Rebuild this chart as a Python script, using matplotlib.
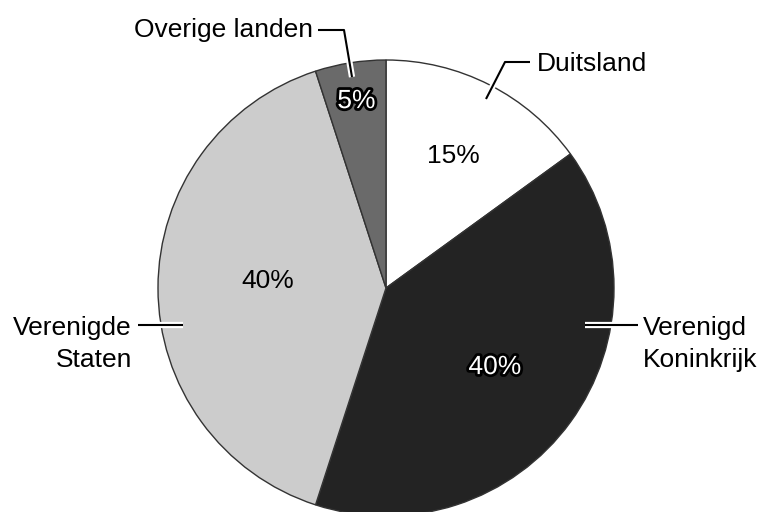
import numpy as np
import matplotlib
matplotlib.use("Agg")
import matplotlib.pyplot as plt
import matplotlib.patheffects as pe

plt.rcParams['font.family'] = ['Liberation Sans', 'DejaVu Sans']

categories = ["Duitsland", "Verenigd Koninkrijk", "Verenigde Staten", "Overige landen"]
values = [15, 40, 40, 5]
pct_labels = ["15%", "40%", "40%", "5%"]

colors = ["#ffffff", "#232323", "#cccccc", "#6a6a6a"]
pct_dist = [0.65, 0.59, 0.52, 0.83]
pct_outline = [False, True, False, True]

W, H = 762, 512
fig = plt.figure(figsize=(W / 100, H / 100), dpi=100)
ax = fig.add_axes([0, 0, 1, 1])

cx, cy, R = 386, H - 288, 228
wedges, _ = ax.pie(values, colors=colors, startangle=90, counterclock=False,
                   center=(cx, cy), radius=R, frame=True,
                   wedgeprops=dict(edgecolor="#333333", linewidth=1.0))
ax.set_xlim(0, W)
ax.set_ylim(0, H)
ax.set_aspect('equal')
ax.axis('off')

fs = 19
for w, lab, d, outl in zip(wedges, pct_labels, pct_dist, pct_outline):
    mid = np.deg2rad((w.theta1 + w.theta2) / 2)
    x = cx + d * R * np.cos(mid)
    y = cy + d * R * np.sin(mid)
    if lab == "40%" and not outl:
        y += 7
    if outl:
        ax.text(x, y, lab, ha='center', va='center', fontsize=fs, color='white',
                path_effects=[pe.Stroke(linewidth=4, foreground='black'), pe.Normal()])
    else:
        ax.text(x, y, lab, ha='center', va='center', fontsize=fs, color='black')

def py(v):
    return H - v

halo = [pe.Stroke(linewidth=4.5, foreground='white'), pe.Normal()]

leaders = [
    [(486, 99), (505, 62), (530, 62)],
    [(585, 325), (638, 325)],
    [(183, 325), (138, 325)],
    [(352, 77), (344, 30), (318, 30)],
]
for pts in leaders:
    xs = [p[0] for p in pts]
    ys = [py(p[1]) for p in pts]
    ax.plot(xs, ys, color='black', lw=1.5, solid_capstyle='butt', path_effects=halo)

ax.text(537, py(71), "Duitsland", ha='left', va='baseline', fontsize=fs)
ax.text(643, py(335), "Verenigd", ha='left', va='baseline', fontsize=fs)
ax.text(643, py(367), "Koninkrijk", ha='left', va='baseline', fontsize=fs)
ax.text(132, py(335), "Verenigde", ha='right', va='baseline', fontsize=fs)
ax.text(132, py(367), "Staten", ha='right', va='baseline', fontsize=fs)
ax.text(313, py(37), "Overige landen", ha='right', va='baseline', fontsize=fs)

fig.savefig("out.png", dpi=100)
